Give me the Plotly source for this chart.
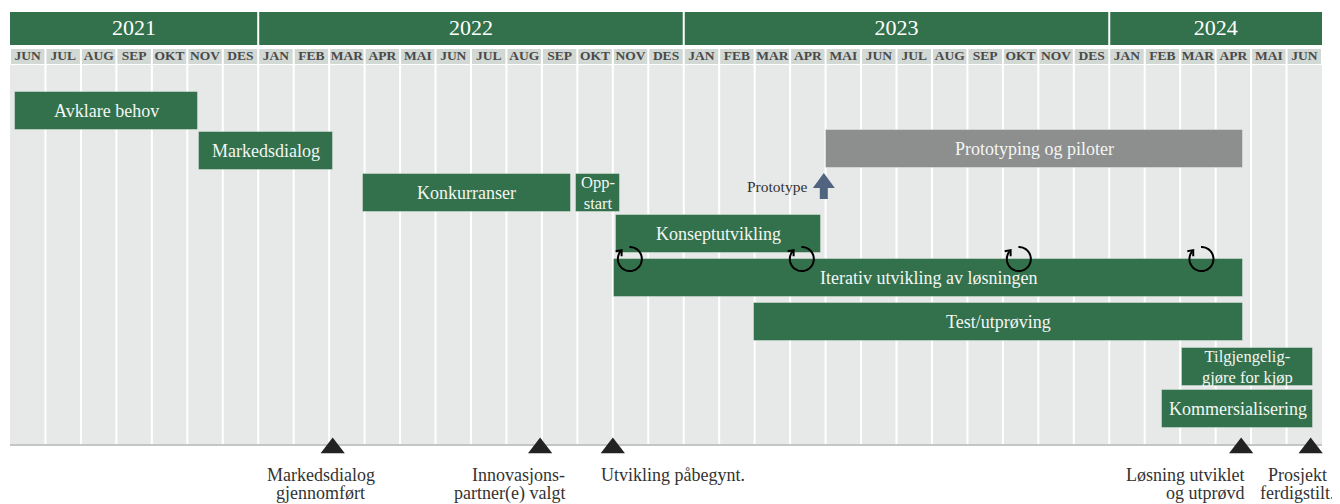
import numpy as np
import plotly.graph_objects as go

# ---------------- data ----------------
months = ["JUN", "JUL", "AUG", "SEP", "OKT", "NOV", "DES",
          "JAN", "FEB", "MAR", "APR", "MAI", "JUN", "JUL", "AUG", "SEP", "OKT", "NOV", "DES",
          "JAN", "FEB", "MAR", "APR", "MAI", "JUN", "JUL", "AUG", "SEP", "OKT", "NOV", "DES",
          "JAN", "FEB", "MAR", "APR", "MAI", "JUN"]
years = ["2021", "2022", "2023", "2024"]
year_start = [0, 7, 19, 31]
year_end = [7, 19, 31, 37]

task_names = ["Avklare behov", "Markedsdialog", "Konkurranser", "Opp-<br>start",
              "Prototyping og piloter", "Konseptutvikling",
              "Iterativ utvikling av løsningen", "Test/utprøving",
              "Tilgjengelig-<br>gjøre for kjøp", "Kommersialisering"]
task_start = [0.14, 5.33, 9.95, 15.96, 23.01, 17.09, 17.03, 20.98, 33.05, 32.49]
task_end = [5.30, 9.11, 15.82, 17.20, 34.77, 22.87, 34.77, 34.77, 36.75, 36.75]
task_row = [0.0, 0.95, 1.92, 1.92, 0.89, 2.89, 3.92, 4.95, 6.02, 7.0]
task_kind = ["main", "main", "main", "main", "pilot", "main", "main", "main", "main", "main"]

iteration_months = [17.48, 22.33, 28.45, 33.60]

prototype_month = 22.95
prototype_label = "Prototype"

milestone_months = [9.10, 14.95, 17.00, 34.72, 36.68]
milestone_labels = ["Markedsdialog<br>gjennomført", "Innovasjons-<br>partner(e) valgt",
                    "Utvikling påbegynt.", "Løsning utviklet<br>og utprøvd",
                    "Prosjekt<br>ferdigstilt."]

# ---------------- layout constants ----------------
PAGE_W, PAGE_H = 1340, 504
OFF = 8                       # page body margin
W, H = PAGE_W - OFF, PAGE_H - OFF
PX = 35.46          # pixels per month
X0 = 10             # page pixel of month 0
N = len(months)
ROW0, ROWSTEP, BAR_H = 111, 42.6, 38
GREEN = "#32714b"
GRAY = "#8d8e8e"
BODY = "#e7e8e8"
MONTHBG = "#d2d8d4"
FONT = "Liberation Serif"

def mx(px):
    return px / PX

fig = go.Figure()
shapes = []
annotations = []

# body background
shapes.append(dict(type="rect", x0=0, x1=N, y0=65, y1=445, fillcolor=BODY,
                   line=dict(width=0), layer="below"))
for i in range(1, N):
    shapes.append(dict(type="line", x0=i, x1=i, y0=65, y1=445,
                       line=dict(color="white", width=2), layer="below"))
shapes.append(dict(type="line", x0=0, x1=N, y0=445, y1=445,
                   line=dict(color="#c4c6c5", width=2), layer="below"))

# month cells
for i in range(N):
    shapes.append(dict(type="rect", x0=i + mx(1), x1=i + 1 - mx(1), y0=49, y1=64,
                       fillcolor=MONTHBG, line=dict(width=0), layer="below"))
fig.add_trace(go.Scatter(x=[i + 0.5 for i in range(N)], y=[57] * N, mode="text",
                         text=months, textfont=dict(family=FONT, size=13.5, color="#4a4a4a"),
                         texttemplate="<b>%{text}</b>", hoverinfo="skip", showlegend=False))

# year cells
for ys, ye in zip(year_start, year_end):
    shapes.append(dict(type="rect", x0=ys + (mx(1) if ys > 0 else 0), x1=ye - (mx(1) if ye < N else 0),
                       y0=12, y1=45, fillcolor=GREEN, line=dict(width=0), layer="below"))
fig.add_trace(go.Scatter(x=[(a + b) / 2 for a, b in zip(year_start, year_end)], y=[29] * len(years),
                         mode="text", text=years,
                         textfont=dict(family=FONT, size=22, color="white"),
                         hoverinfo="skip", showlegend=False))

# task bars
row_px = [ROW0 + r * ROWSTEP for r in task_row]
colors = [GREEN if k == "main" else GRAY for k in task_kind]
fig.add_trace(go.Bar(orientation="h", base=task_start,
                     x=[e - s for s, e in zip(task_start, task_end)],
                     y=row_px, width=BAR_H,
                     marker=dict(color=colors, line=dict(color="rgba(255,255,255,0.35)", width=1)),
                     hoverinfo="skip", showlegend=False))

for name, s, e, y in zip(task_names, task_start, task_end, row_px):
    two = "<br>" in name
    annotations.append(dict(x=(s + e) / 2, y=y, text=name, showarrow=False,
                            xanchor="center", yanchor="middle", align="center",
                            font=dict(family=FONT, size=16.5 if two else 18, color="#f4f6f4")))

# iteration symbols (circular arrows)
ITER_Y = 259
R = 12
for m in iteration_months:
    th = np.radians(np.linspace(92, -220, 60))
    xs = m + R * np.cos(th) / PX
    ys = ITER_Y - R * np.sin(th)
    path = "M " + " L ".join(f"{a:.4f},{b:.2f}" for a, b in zip(xs, ys))
    shapes.append(dict(type="path", path=path, line=dict(color="black", width=2)))
    t_end = th[-1]
    tx, ty = np.sin(t_end), np.cos(t_end)  # screen tangent (clockwise)
    ex, ey = R * np.cos(t_end), -R * np.sin(t_end)
    tipx, tipy = ex + 1.5 * tx, ey + 1.5 * ty
    pts = []
    for ang in (40, -40):
        a = np.radians(ang)
        bx = -(tx * np.cos(a) - ty * np.sin(a))
        by = -(tx * np.sin(a) + ty * np.cos(a))
        pts.append((tipx + 6 * bx, tipy + 6 * by))
    hp = (f"M {m + pts[0][0] / PX:.4f},{ITER_Y + pts[0][1]:.2f} "
          f"L {m + tipx / PX:.4f},{ITER_Y + tipy:.2f} "
          f"L {m + pts[1][0] / PX:.4f},{ITER_Y + pts[1][1]:.2f}")
    shapes.append(dict(type="path", path=hp, line=dict(color="black", width=2)))

# prototype arrow
pm = prototype_month
arrow_pts = [(-4, 199), (-4, 188), (-11, 188), (0, 173), (11, 188), (4, 188), (4, 199)]
ap = "M " + " L ".join(f"{pm + dx / PX:.4f},{yy}" for dx, yy in arrow_pts) + " Z"
shapes.append(dict(type="path", path=ap, fillcolor="#50647f", line=dict(width=0)))
annotations.append(dict(x=pm, y=186, text=prototype_label, showarrow=False, xanchor="right",
                        yanchor="middle", xshift=-15,
                        font=dict(family=FONT, size=15.5, color="#333333")))

# milestones
fig.add_trace(go.Scatter(x=milestone_months, y=[448] * len(milestone_months), mode="markers",
                         marker=dict(symbol="triangle-up", size=21, color="#222222",
                                     line=dict(width=0)),
                         hoverinfo="skip", showlegend=False))
label_style = [("center", -12), ("right", 27), ("left", -14), ("right", 6), ("center", -13)]
for m, lab, (anc, sh) in zip(milestone_months, milestone_labels, label_style):
    lines = lab.split("<br>")
    for k, ln in enumerate(lines):
        annotations.append(dict(x=m, y=475 + 18 * k, text=ln, showarrow=False,
                                xanchor=anc, yanchor="middle", xshift=sh,
                                font=dict(family=FONT, size=18, color="#333333")))

fig.update_layout(
    width=W, height=H, autosize=False,
    margin=dict(l=0, r=0, t=0, b=0),
    paper_bgcolor="white", plot_bgcolor="white",
    xaxis=dict(range=[(OFF - X0) / PX, (PAGE_W - X0) / PX], visible=False, fixedrange=True),
    yaxis=dict(range=[PAGE_H, OFF], visible=False, fixedrange=True),
    shapes=shapes, annotations=annotations,
    bargap=0, showlegend=False,
)

fig.write_html("out.html")
